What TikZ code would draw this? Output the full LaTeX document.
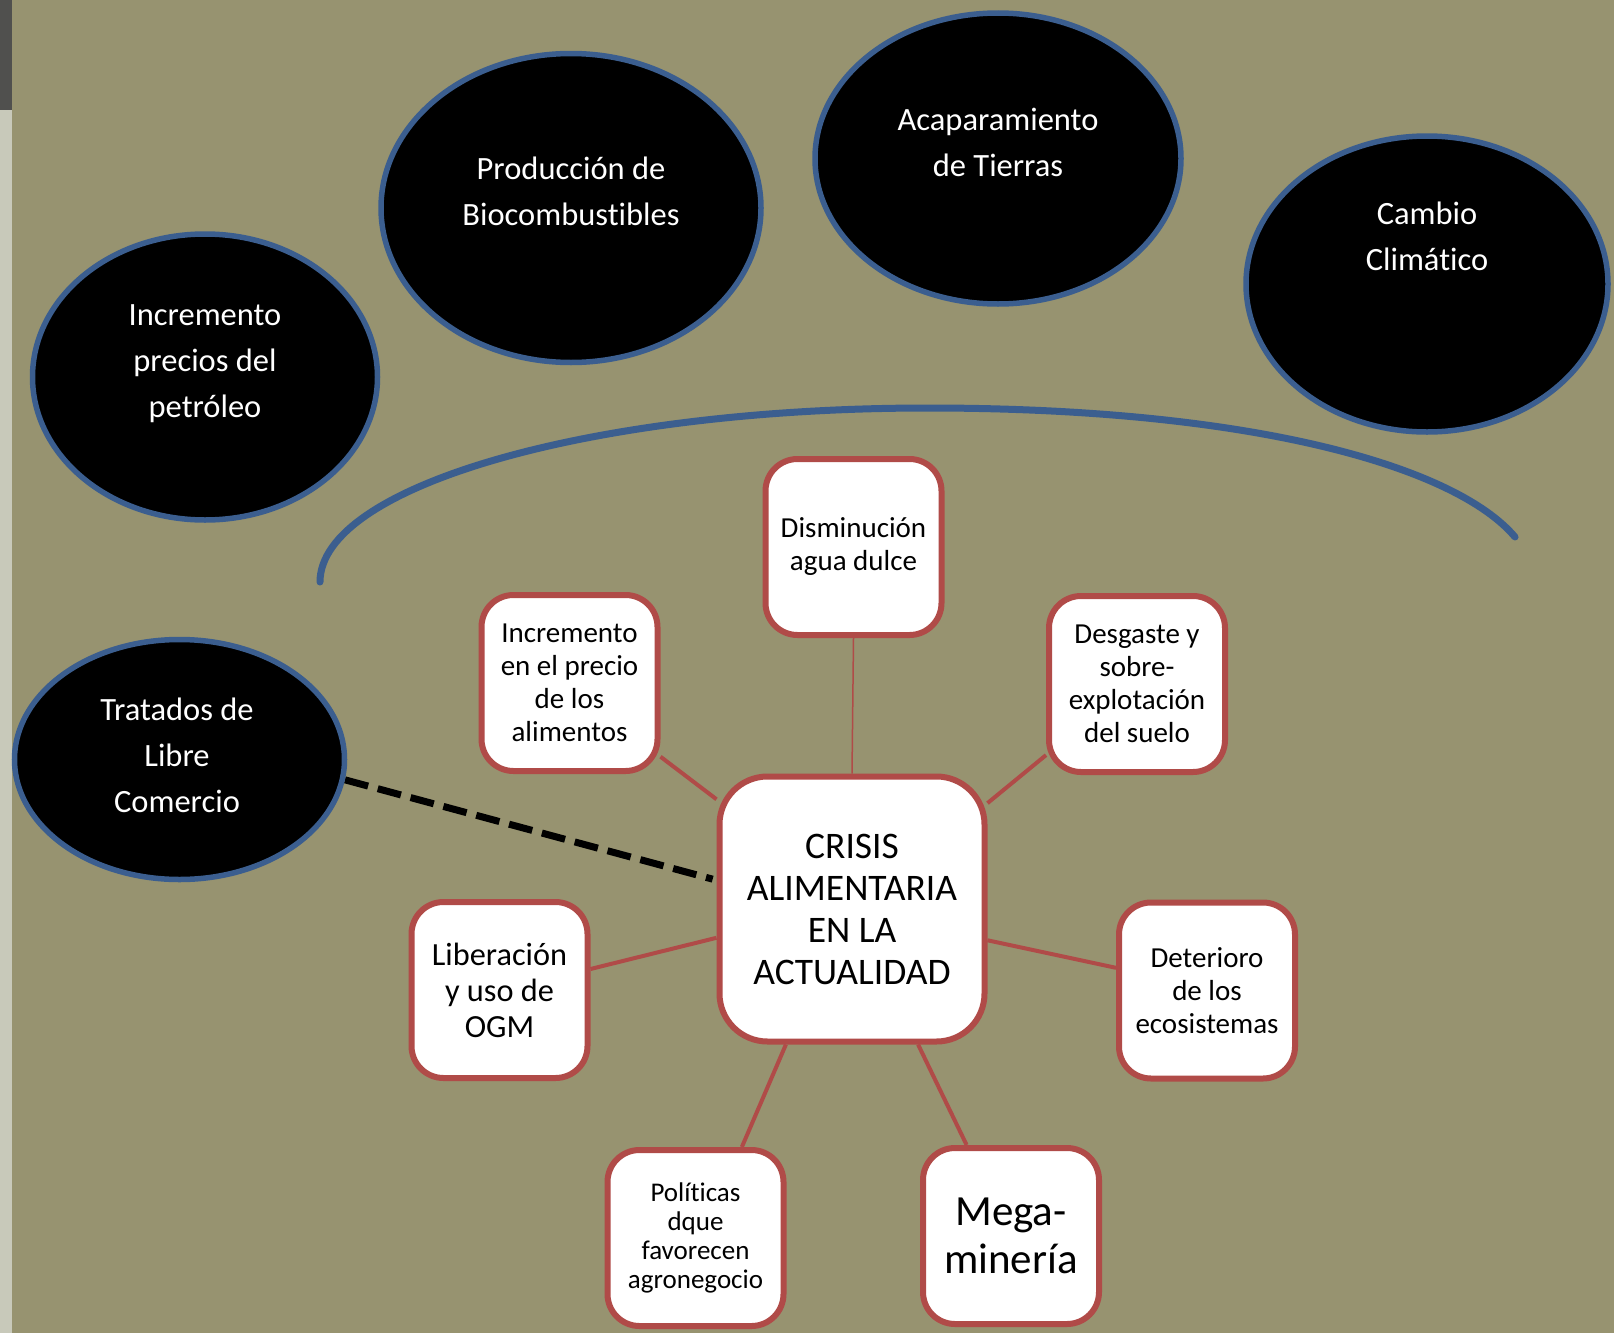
\documentclass[tikz,border=0pt]{standalone}
\usepackage{fontspec}
\setmainfont{Carlito}[Ligatures=NoCommon]
\usetikzlibrary{shapes.geometric,backgrounds}
\definecolor{bgC}{RGB}{151,147,112}
\definecolor{blueC}{RGB}{59,94,143}
\definecolor{redC}{RGB}{176,75,72}
\definecolor{stripDark}{RGB}{80,80,78}
\definecolor{stripLight}{RGB}{200,201,186}
\tikzset{
  bubble/.style={ellipse, draw=blueC, line width=5.5pt, fill=black, inner sep=0pt},
  btext/.style={text=white, align=center, font=\fontsize{32.5}{46}\selectfont},
  card/.style={rectangle, rounded corners=32pt, draw=redC, line width=6pt, fill=white,
    minimum width=176pt, minimum height=176pt, align=center, inner sep=0pt,
    font=\fontsize{29}{33}\selectfont},
  link/.style={draw=redC, line width=4pt},
  thinlink/.style={draw=redC, line width=1.5pt},
  dashlink/.style={draw=black, line width=7pt, dash pattern=on 24pt off 10pt, shorten >=4pt},
  arcline/.style={draw=blueC, line width=7pt, line cap=round},
}
\begin{document}
\begin{tikzpicture}[x=1pt, y=-1pt]
\useasboundingbox (0,0) rectangle (1614,1333);
% ellipses
\node[bubble, minimum width=345pt, minimum height=286pt] (e1) at (205,377) {};
\node[btext] (t1) at (205,364) {Incremento\\precios del\\petróleo};
\node[bubble, minimum width=380pt, minimum height=309pt] (e2) at (571,208) {};
\node[btext] (t2) at (571,191) {Producción de\\Biocombustibles};
\node[bubble, minimum width=366pt, minimum height=291pt] (e3) at (998,158.5) {};
\node[btext] (t3) at (998,142) {Acaparamiento\\de Tierras};
\node[bubble, minimum width=362pt, minimum height=296pt] (e4) at (1427,284) {};
\node[btext] (t4) at (1427,236) {Cambio\\Climático};
\node[bubble, minimum width=330pt, minimum height=240pt] (e5) at (179.5,759.5) {};
\node[btext] (t5) at (177,755) {Tratados de\\Libre\\Comercio};
% boxes
\node[card, rounded corners=48pt, minimum width=265pt, minimum height=265pt,
  font=\fontsize{37.5}{42}\selectfont] (crisis) at (852,909)
  {CRISIS\\ALIMENTARIA\\EN LA\\ACTUALIDAD};
\node[card] (dism) at (853.5,547) {Disminución\\agua dulce};
\node[card] (incalim) at (569.5,683) {Incremento\\en el precio\\de los\\alimentos};
\node[card] (desg) at (1137,684) {Desgaste y\\sobre-\\explotación\\del suelo};
\node[card, font=\fontsize{32.3}{36}\selectfont] (ogm) at (499.5,990) {Liberación\\y uso de\\OGM};
\node[card] (deter) at (1207,990.5) {Deterioro\\de los\\ecosistemas};
\node[card, font=\fontsize{27}{29}\selectfont] (polit) at (695.5,1238) {Políticas\\dque\\favorecen\\agronegocio};
\node[card, font=\fontsize{43}{48}\selectfont] (mega) at (1011,1236) {Mega-\\minería};
\begin{scope}[on background layer]
  \fill[bgC] (0,0) rectangle (1614,1333);
  \fill[stripDark] (0,0) rectangle (12,110);
  \fill[stripLight] (0,110) rectangle (12,1333);
  \coordinate (arcA) at (320,582);
  \coordinate (arcT) at (928,408);
  \coordinate (arcB) at (1515,537);
  \draw[arcline] (arcA) .. controls (320,486) and (592,408) .. (arcT)
    .. controls (1258,408) and (1457,468) .. (arcB);
  \draw[thinlink] (crisis.north) -- (dism.south);
  \draw[link] (crisis.141) -- (incalim.321.7);
  \draw[link] (crisis.38.6) -- (desg.218);
  \draw[link] (crisis.192.8) -- (ogm.13.1);
  \draw[link] (crisis.347.3) -- (deter.166.7);
  \draw[link] (crisis.244.1) -- (polit.63.7);
  \draw[link] (crisis.296.4) -- (mega.116.3);
  \draw[dashlink] (e5.353.2) -- (crisis.168.6);
\end{scope}
\end{tikzpicture}
\end{document}
